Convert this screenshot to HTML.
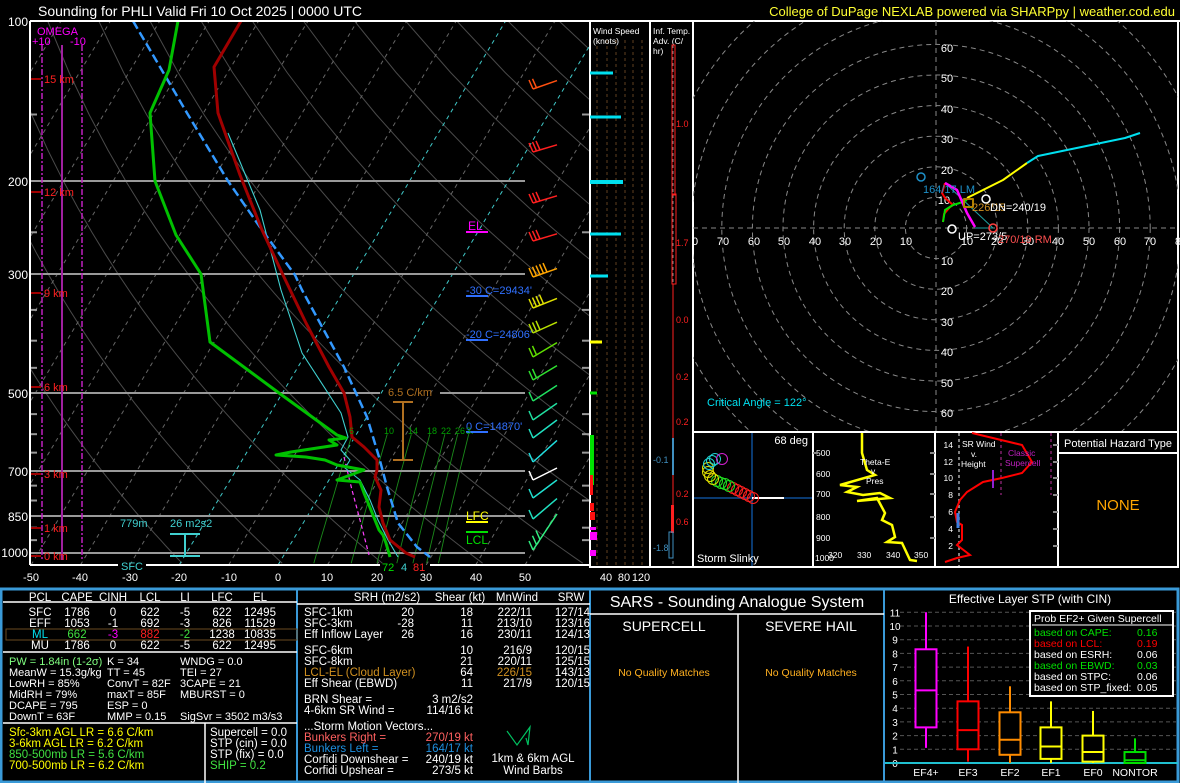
<!DOCTYPE html>
<html><head><meta charset="utf-8"><style>
html,body{margin:0;padding:0;background:#000;}
svg{display:block;font-family:"Liberation Sans",sans-serif;}
</style></head><body>
<svg id="s" width="1180" height="783" viewBox="0 0 1180 783" xmlns="http://www.w3.org/2000/svg">
<rect width="1180" height="783" fill="#000"/>
<defs>
<clipPath id="cs"><rect x="30" y="21" width="559" height="544"/></clipPath>
<clipPath id="ch"><rect x="693" y="21" width="485" height="411"/></clipPath>
</defs>
<text x="38" y="16" fill="#fff" font-size="14">Sounding for PHLI Valid  Fri 10 Oct 2025 | 0000 UTC</text>
<text x="1175" y="16" fill="#ffff33" font-size="13" text-anchor="end">College of DuPage NEXLAB powered via SHARPpy | weather.cod.edu</text>

<g id="grid" clip-path="url(#cs)"></g>

<g stroke="#999" stroke-width="2">
<line x1="30" y1="181" x2="525" y2="181"/><line x1="30" y1="274" x2="525" y2="274"/>
<line x1="30" y1="393" x2="380" y2="393"/><line x1="440" y1="393" x2="525" y2="393"/>
<line x1="30" y1="471" x2="525" y2="471"/><line x1="30" y1="516" x2="525" y2="516"/>
<line x1="30" y1="553" x2="525" y2="553"/>
</g>
<g id="ticks" stroke="#999" stroke-width="2"></g>
<line x1="62" y1="45" x2="62" y2="560" stroke="#a020a0" stroke-width="2"/>
<line x1="42" y1="45" x2="42" y2="560" stroke="#c020c0" stroke-width="1.5" stroke-dasharray="6,2,2,2"/>
<line x1="82" y1="45" x2="82" y2="560" stroke="#c020c0" stroke-width="1.5" stroke-dasharray="6,2,2,2"/>
<text x="37" y="35" fill="#ff00ff" font-size="11">OMEGA</text>
<text x="32" y="45" fill="#ff00ff" font-size="11">+10</text><text x="70" y="45" fill="#ff00ff" font-size="11">-10</text>
<g stroke="#a00000" stroke-width="2"><line x1="31" y1="79" x2="41" y2="79"/><line x1="31" y1="192" x2="41" y2="192"/><line x1="31" y1="293" x2="41" y2="293"/><line x1="31" y1="387" x2="41" y2="387"/><line x1="31" y1="474" x2="41" y2="474"/><line x1="31" y1="528" x2="41" y2="528"/><line x1="31" y1="556" x2="41" y2="556"/></g>
<g fill="#ff2020" font-size="11"><text x="44" y="83">15 km</text><text x="44" y="196">12 km</text><text x="44" y="297">9 km</text><text x="44" y="391">6 km</text><text x="44" y="478">3 km</text><text x="44" y="532">1 km</text><text x="44" y="560">0 km</text></g>

<g clip-path="url(#cs)" fill="none" stroke-linejoin="round">
<polyline stroke="#ff40ff" stroke-width="1.2" stroke-dasharray="4,3" points="344,457 352,490 360,520 369,555"/>
<polyline stroke="#40d0d0" stroke-width="1.1" points="228,133 260,210 281,290 302,353 341,413 348,437 341,450 350,460 345,468 360,480 370,500 378,520 388,540 398,557"/>
<polyline stroke="#3399ff" stroke-width="2.5" stroke-dasharray="9,4" points="133,21 160,67 187,113 228,181 262,230 295,275 302,290 344,367 367,417 379,457 387,487 398,523 417,547 430,557"/>
<polyline stroke="#a00000" stroke-width="3" points="241,21 214,67 218,113 240,175 262,230 283,275 306,323 329,367 344,393 350,417 352,437 364,447 377,460 377,470 375,477 381,490 379,507 383,523 390,540 406,553 415,557"/>
<polyline stroke="#00c000" stroke-width="3" points="178,21 169,70 150,113 155,181 176,235 201,274 210,342 279,393 337,435 346,438 329,440 337,445 291,452 276,455 306,457 325,460 337,465 364,470 337,480 360,482 364,493 371,510 379,530 383,535 386,543 390,557"/>
</g>
<text x="388" y="396" fill="#b07020" font-size="11">6.5 C/km</text>
<g stroke="#b07020" stroke-width="2"><line x1="403" y1="402" x2="403" y2="460"/><line x1="393" y1="402" x2="413" y2="402"/><line x1="393" y1="460" x2="413" y2="460"/></g>
<text x="120" y="527" fill="#40d0d0" font-size="11">779m</text><text x="170" y="527" fill="#40d0d0" font-size="11">26 m2s2</text>
<g stroke="#40d0d0" stroke-width="2"><line x1="170" y1="534" x2="200" y2="534"/><line x1="170" y1="556" x2="200" y2="556"/><line x1="185" y1="534" x2="185" y2="556"/></g>
<text x="466" y="520" fill="#ffff00" font-size="12">LFC</text><line x1="466" y1="522" x2="488" y2="522" stroke="#ffff00" stroke-width="2"/>
<line x1="466" y1="532" x2="488" y2="532" stroke="#00e000" stroke-width="2"/><text x="466" y="544" fill="#00e000" font-size="12">LCL</text>
<text x="468" y="230" fill="#ff00ff" font-size="12">EL</text><line x1="466" y1="232" x2="488" y2="232" stroke="#ff00ff" stroke-width="2"/>
<g fill="#3070ff" font-size="11"><text x="466" y="294">-30 C=29434'</text><text x="466" y="338">-20 C=24806'</text><text x="466" y="430">0 C=14870'</text></g>
<g stroke="#3070ff" stroke-width="2"><line x1="466" y1="296" x2="488" y2="296"/><line x1="466" y1="340" x2="488" y2="340"/><line x1="466" y1="432" x2="488" y2="432"/></g>
<g fill="#00a000" font-size="9"><text x="349" y="434">6</text><text x="384" y="434">10</text><text x="408" y="434">14</text><text x="427" y="434">18</text><text x="441" y="434">22</text><text x="455" y="434">26</text><text x="466" y="434">3.</text></g>
<g id="barbs" fill="none" stroke-width="1.5"></g>

<line x1="30" y1="21" x2="1180" y2="21" stroke="#fff" stroke-width="2"/>
<line x1="30" y1="21" x2="30" y2="565" stroke="#fff" stroke-width="2"/>
<line x1="30" y1="565" x2="118" y2="565" stroke="#fff" stroke-width="2"/><line x1="146" y1="565" x2="380" y2="565" stroke="#fff" stroke-width="2"/><line x1="430" y1="565" x2="589" y2="565" stroke="#fff" stroke-width="2"/>
<text x="121" y="570" fill="#40d0d0" font-size="11">SFC</text>
<text x="382" y="571" fill="#00e000" font-size="11">72</text><text x="401" y="571" fill="#40d0d0" font-size="11">4</text><text x="413" y="571" fill="#ff2020" font-size="11">81</text>
<g fill="#fff" font-size="12" text-anchor="end"><text x="28" y="26">100</text><text x="28" y="186">200</text><text x="28" y="279">300</text><text x="28" y="398">500</text><text x="28" y="476">700</text><text x="28" y="521">850</text><text x="28" y="557">1000</text></g>
<g fill="#fff" font-size="11" text-anchor="middle"><text x="31" y="581">-50</text><text x="80" y="581">-40</text><text x="130" y="581">-30</text><text x="179" y="581">-20</text><text x="229" y="581">-10</text><text x="278" y="581">0</text><text x="327" y="581">10</text><text x="377" y="581">20</text><text x="426" y="581">30</text><text x="476" y="581">40</text><text x="525" y="581">50</text>
<text x="606" y="581">40</text><text x="624" y="581">80</text><text x="641" y="581">120</text></g>

<g stroke="#604020" stroke-width="1" stroke-dasharray="3,3"><line x1="597" y1="40" x2="597" y2="565"/><line x1="607" y1="40" x2="607" y2="565"/><line x1="616" y1="40" x2="616" y2="565"/><line x1="625" y1="40" x2="625" y2="565"/><line x1="633" y1="40" x2="633" y2="565"/><line x1="642" y1="40" x2="642" y2="565"/></g>
<g stroke="#fff" stroke-width="2"><line x1="590" y1="21" x2="590" y2="567"/><line x1="650" y1="21" x2="650" y2="567"/><line x1="693" y1="21" x2="693" y2="432"/><line x1="589" y1="567" x2="693" y2="567"/></g>
<g fill="#fff" font-size="8.5"><text x="593" y="34">Wind Speed</text><text x="593" y="44">(knots)</text><text x="653" y="34">Inf. Temp.</text><text x="653" y="44">Adv. (C/</text><text x="653" y="54">hr)</text></g>
<g stroke="#00e0f0" stroke-width="3"><line x1="590" y1="73" x2="613" y2="73"/><line x1="590" y1="117" x2="621" y2="117"/><line x1="590" y1="182" x2="623" y2="182" stroke-width="4"/><line x1="590" y1="234" x2="621" y2="234"/><line x1="590" y1="276" x2="608" y2="276"/></g>
<line x1="590" y1="342" x2="602" y2="342" stroke="#ffff00" stroke-width="3"/><line x1="590" y1="393" x2="597" y2="393" stroke="#00e000" stroke-width="3"/>
<g fill="#00e000"><rect x="590" y="435" width="4" height="50"/></g>
<g fill="#ff1010"><rect x="590" y="475" width="3" height="20"/><rect x="590" y="503" width="4" height="8"/><rect x="590" y="512" width="5" height="8"/></g>
<g fill="#ff00ff"><rect x="590" y="527" width="6" height="3"/><rect x="590" y="532" width="7" height="8"/><rect x="590" y="550" width="6" height="6"/></g>
<line x1="673" y1="45" x2="673" y2="565" stroke="#888" stroke-width="1" stroke-dasharray="3,3"/>
<rect x="672" y="45" width="3" height="150" fill="none" stroke="#ff2020" stroke-width="1"/>
<rect x="672" y="194" width="4" height="90" fill="none" stroke="#ff2020" stroke-width="1"/>
<line x1="673" y1="284" x2="673" y2="438" stroke="#ff2020" stroke-width="1"/>
<line x1="673" y1="438" x2="673" y2="475" stroke="#4090c0" stroke-width="2"/>
<line x1="673" y1="475" x2="673" y2="505" stroke="#ff2020" stroke-width="1"/>
<rect x="671" y="505" width="3" height="28" fill="#ff2020"/>
<rect x="669" y="532" width="4" height="26" fill="none" stroke="#4090c0" stroke-width="1"/>
<g fill="#ff2020" font-size="9"><text x="676" y="127">1.0</text><text x="676" y="246">1.7</text><text x="676" y="323">0.0</text><text x="676" y="380">0.2</text><text x="676" y="425">0.2</text><text x="676" y="497">0.2</text><text x="676" y="525">0.6</text></g>
<g fill="#4090c0" font-size="9"><text x="653" y="463">-0.1</text><text x="653" y="551">-1.8</text></g>

<rect x="693" y="21" width="485" height="411" fill="none" stroke="#fff" stroke-width="2"/>
<g id="hod" clip-path="url(#ch)" fill="none" stroke="#888" stroke-width="1" stroke-dasharray="5,4"></g>
<g fill="#fff" font-size="11" text-anchor="middle"><text x="695" y="245">0</text><text x="723" y="245">70</text><text x="754" y="245">60</text><text x="784" y="245">50</text><text x="815" y="245">40</text><text x="845" y="245">30</text><text x="876" y="245">20</text><text x="906" y="245">10</text><text x="967" y="245">10</text><text x="997" y="245">20</text><text x="1028" y="245">30</text><text x="1058" y="245">40</text><text x="1089" y="245">50</text><text x="1120" y="245">60</text><text x="1150" y="245">70</text><text x="1178" y="245">8</text></g>
<g fill="#fff" font-size="11" text-anchor="middle"><text x="947" y="52">60</text><text x="947" y="82">50</text><text x="947" y="113">40</text><text x="947" y="143">30</text><text x="947" y="174">20</text><text x="944" y="204">10</text><text x="947" y="265">10</text><text x="947" y="295">20</text><text x="947" y="326">30</text><text x="947" y="356">40</text><text x="947" y="387">50</text><text x="947" y="417">60</text></g>
<g fill="none" stroke-linejoin="round">
<polyline stroke="#20a0a0" stroke-width="1" points="945,183 993,228 975,228"/>
<polyline stroke="#ff0000" stroke-width="2" points="943,222 944,214 950,207 953,205 945,198 942,193 945,183"/>
<polyline stroke="#00e000" stroke-width="2" points="943,222 945,210 953,205 963,202 967,200"/>
<polyline stroke="#ff00ff" stroke-width="2.5" points="945,183 957,190 967,213 975,227"/>
<polyline stroke="#ffff00" stroke-width="2" points="967,198 1003,180 1027,163"/>
<polyline stroke="#00e0f0" stroke-width="2" points="1027,163 1038,156 1125,138 1140,133"/>
<circle cx="921" cy="177" r="4" stroke="#1e90c8" stroke-width="1.5"/>
<circle cx="986" cy="199" r="4" stroke="#fff" stroke-width="1.5"/>
<circle cx="952" cy="229" r="4" stroke="#fff" stroke-width="1.5"/>
<circle cx="993" cy="228" r="4" stroke="#ff4040" stroke-width="1.5"/>
<rect x="964" y="199" width="9" height="8" stroke="#b08000" stroke-width="2"/>
</g>
<g font-size="11"><text x="923" y="193" fill="#1e90c8">164/17 LM</text><text x="972" y="211" fill="#d09020">226/15</text><text x="990" y="211" fill="#fff">DN=240/19</text><text x="958" y="240" fill="#fff">UP=273/5</text><text x="998" y="243" fill="#ff5050">270/19 RM</text><text x="707" y="406" fill="#00e0f0">Critical Angle = 122°</text></g>

<g fill="none" stroke="#fff" stroke-width="2"><rect x="693" y="432" width="120" height="135"/><rect x="813" y="432" width="122" height="135"/><rect x="935" y="432" width="123" height="135"/><rect x="1058" y="432" width="120" height="135"/></g>
<g stroke="#0a3a70" stroke-width="2"><line x1="752" y1="433" x2="752" y2="566"/><line x1="694" y1="498" x2="812" y2="498"/></g>
<line x1="752" y1="498" x2="784" y2="498" stroke="#fff" stroke-width="2"/>
<g id="slinky" fill="none" stroke-width="1"></g>
<text x="808" y="444" fill="#fff" font-size="11" text-anchor="end">68 deg</text>
<text x="697" y="562" fill="#fff" font-size="11">Storm Slinky</text>
<polyline fill="none" stroke="#ffff00" stroke-width="2.5" points="862,433 862,453 867,470 875,475 840,485 857,487 847,492 863,495 880,493 890,498 857,501 877,498 885,513 882,520 892,525 895,537 887,542 902,543 910,560 917,561"/>
<g fill="#fff" font-size="8.5"><text x="860" y="465">Theta-E</text><text x="871" y="474">v</text><text x="866" y="484">Pres</text>
<text x="816" y="456">500</text><text x="816" y="477">600</text><text x="816" y="497">700</text><text x="816" y="520">800</text><text x="816" y="541">900</text><text x="815" y="561">1000</text>
<text x="828" y="558">320</text><text x="857" y="558">330</text><text x="886" y="558">340</text><text x="914" y="558">350</text></g>
<g stroke="#888" stroke-width="2"><line x1="813" y1="453" x2="818" y2="453"/><line x1="930" y1="453" x2="935" y2="453"/><line x1="930" y1="474" x2="935" y2="474"/><line x1="930" y1="494" x2="935" y2="494"/><line x1="930" y1="517" x2="935" y2="517"/><line x1="930" y1="538" x2="935" y2="538"/><line x1="1053" y1="445" x2="1058" y2="445"/><line x1="1053" y1="462" x2="1058" y2="462"/><line x1="1053" y1="478" x2="1058" y2="478"/><line x1="1053" y1="495" x2="1058" y2="495"/><line x1="1053" y1="512" x2="1058" y2="512"/><line x1="1053" y1="529" x2="1058" y2="529"/><line x1="1053" y1="546" x2="1058" y2="546"/></g>
<line x1="959" y1="433" x2="959" y2="566" stroke="#aaa" stroke-width="1.5" stroke-dasharray="3,3"/>
<line x1="1001" y1="433" x2="1001" y2="495" stroke="#80206a" stroke-width="1.5" stroke-dasharray="3,3"/>
<line x1="1051" y1="433" x2="1051" y2="495" stroke="#80206a" stroke-width="1.5" stroke-dasharray="3,3"/>
<polyline fill="none" stroke="#ff0000" stroke-width="2" points="972,433 1022,445 1032,462 1022,473 1002,478 983,482 967,492 960,500 955,512 957,522 962,525 962,540 957,545 970,555 957,558 945,562"/>
<line x1="993" y1="470" x2="993" y2="488" stroke="#9020d0" stroke-width="2"/>
<line x1="958" y1="513" x2="958" y2="528" stroke="#4080e0" stroke-width="3"/>
<g fill="#fff" font-size="8.5"><text x="962" y="447">SR Wind</text><text x="971" y="457">v.</text><text x="961" y="467">Height</text>
<text x="953" y="448" text-anchor="end">14</text><text x="953" y="465" text-anchor="end">12</text><text x="953" y="481" text-anchor="end">10</text><text x="953" y="498" text-anchor="end">8</text><text x="953" y="515" text-anchor="end">6</text><text x="953" y="532" text-anchor="end">4</text><text x="953" y="549" text-anchor="end">2</text></g>
<g fill="#c020c0" font-size="8.5"><text x="1008" y="456">Classic</text><text x="1005" y="466">Supercell</text></g>
<text x="1118" y="447" fill="#fff" font-size="11" text-anchor="middle">Potential Hazard Type</text>
<line x1="1058" y1="453" x2="1178" y2="453" stroke="#fff" stroke-width="2"/>
<text x="1118" y="510" fill="#ffa500" font-size="15" text-anchor="middle">NONE</text>

<rect x="1" y="589" width="1177" height="193" fill="none" stroke="#3a9ad8" stroke-width="3"/>
<line x1="297" y1="589" x2="297" y2="783" stroke="#3a9ad8" stroke-width="2"/>
<line x1="590" y1="589" x2="590" y2="783" stroke="#3a9ad8" stroke-width="2"/>
<line x1="884" y1="589" x2="884" y2="783" stroke="#3a9ad8" stroke-width="2"/>
<g stroke="#fff" stroke-width="1.5"><line x1="3" y1="602" x2="297" y2="602"/><line x1="3" y1="652" x2="297" y2="652"/><line x1="3" y1="723" x2="297" y2="723"/><line x1="205" y1="723" x2="205" y2="783"/><line x1="297" y1="604" x2="590" y2="604"/><line x1="590" y1="614" x2="884" y2="614"/><line x1="738" y1="614" x2="738" y2="783"/></g>
<rect x="6" y="629" width="291" height="11" fill="none" stroke="#6a4a20" stroke-width="1"/>
<g font-size="11.5" fill="#fff">
<g text-anchor="middle"><text x="40" y="601">PCL</text><text x="77" y="601">CAPE</text><text x="113" y="601">CINH</text><text x="150" y="601">LCL</text><text x="185" y="601">LI</text><text x="222" y="601">LFC</text><text x="260" y="601">EL</text>
<text x="40" y="616">SFC</text><text x="77" y="616">1786</text><text x="113" y="616">0</text><text x="150" y="616">622</text><text x="185" y="616">-5</text><text x="222" y="616">622</text><text x="260" y="616">12495</text>
<text x="40" y="627">EFF</text><text x="77" y="627">1053</text><text x="113" y="627">-1</text><text x="150" y="627">692</text><text x="185" y="627">-3</text><text x="222" y="627">826</text><text x="260" y="627">11529</text>
<text x="40" y="638" fill="#00e0f0">ML</text><text x="77" y="638" fill="#40e040">662</text><text x="113" y="638" fill="#ff00ff">-3</text><text x="150" y="638" fill="#ff2020">882</text><text x="185" y="638" fill="#40e040">-2</text><text x="222" y="638">1238</text><text x="260" y="638">10835</text>
<text x="40" y="649">MU</text><text x="77" y="649">1786</text><text x="113" y="649">0</text><text x="150" y="649">622</text><text x="185" y="649">-5</text><text x="222" y="649">622</text><text x="260" y="649">12495</text></g>
<g font-size="11">
<text x="9" y="665" fill="#80ff80">PW = 1.84in (1-2σ)</text><text x="107" y="665">K = 34</text><text x="180" y="665">WNDG = 0.0</text>
<text x="9" y="676">MeanW = 15.3g/kg</text><text x="107" y="676">TT = 45</text><text x="180" y="676">TEI = 27</text>
<text x="9" y="687">LowRH = 85%</text><text x="107" y="687">ConvT = 82F</text><text x="180" y="687">3CAPE = 21</text>
<text x="9" y="698">MidRH = 79%</text><text x="107" y="698">maxT = 85F</text><text x="180" y="698">MBURST = 0</text>
<text x="9" y="709">DCAPE = 795</text><text x="107" y="709">ESP = 0</text>
<text x="9" y="720">DownT = 63F</text><text x="107" y="720">MMP = 0.15</text><text x="180" y="720">SigSvr = 3502 m3/s3</text>
</g>
<text x="9" y="736" fill="#ffff00">Sfc-3km AGL LR = 6.6 C/km</text>
<text x="9" y="747" fill="#ffff00">3-6km AGL LR = 6.2 C/km</text>
<text x="9" y="758" fill="#40e040">850-500mb LR = 5.6 C/km</text>
<text x="9" y="769" fill="#ffff00">700-500mb LR = 6.2 C/km</text>
<text x="210" y="736">Supercell = 0.0</text><text x="210" y="747">STP (cin) = 0.0</text><text x="210" y="758">STP (fix) = 0.0</text><text x="210" y="769" fill="#40e040">SHIP = 0.2</text>

<g text-anchor="middle"><text x="387" y="601">SRH (m2/s2)</text><text x="460" y="601">Shear (kt)</text><text x="517" y="601">MnWind</text><text x="571" y="601">SRW</text></g>
<text x="304" y="616">SFC-1km</text><text x="304" y="627">SFC-3km</text><text x="304" y="638">Eff Inflow Layer</text>
<text x="304" y="654">SFC-6km</text><text x="304" y="665">SFC-8km</text><text x="304" y="676" fill="#d09020">LCL-EL (Cloud Layer)</text><text x="304" y="687">Eff Shear (EBWD)</text>
<g text-anchor="end"><text x="414" y="616">20</text><text x="414" y="627">-28</text><text x="414" y="638">26</text>
<text x="473" y="616">18</text><text x="473" y="627">11</text><text x="473" y="638">16</text><text x="473" y="654">10</text><text x="473" y="665">21</text><text x="473" y="676">64</text><text x="473" y="687">11</text>
<text x="532" y="616">222/11</text><text x="532" y="627">213/10</text><text x="532" y="638">230/11</text><text x="532" y="654">216/9</text><text x="532" y="665">220/11</text><text x="532" y="676" fill="#d09020">226/15</text><text x="532" y="687">217/9</text>
<text x="590" y="616">127/14</text><text x="590" y="627">123/16</text><text x="590" y="638">124/13</text><text x="590" y="654">120/15</text><text x="590" y="665">125/15</text><text x="590" y="676">143/13</text><text x="590" y="687">120/15</text>
<text x="473" y="703">3 m2/s2</text><text x="473" y="714">114/16 kt</text>
<text x="473" y="741" fill="#ff6060">270/19 kt</text><text x="473" y="752" fill="#1e90e0">164/17 kt</text><text x="473" y="763">240/19 kt</text><text x="473" y="774">273/5 kt</text></g>
<text x="304" y="703">BRN Shear =</text><text x="304" y="714">4-6km SR Wind =</text>
<text x="304" y="730">...Storm Motion Vectors...</text>
<text x="304" y="741" fill="#ff6060">Bunkers Right =</text><text x="304" y="752" fill="#1e90e0">Bunkers Left =</text><text x="304" y="763">Corfidi Downshear =</text><text x="304" y="774">Corfidi Upshear =</text>
<g text-anchor="middle"><text x="533" y="762">1km &amp; 6km AGL</text><text x="533" y="774">Wind Barbs</text></g>
</g>
<polyline fill="none" stroke="#00c060" stroke-width="1.2" points="507,731 517,745 530,727 528,745 526,738"/>

<text x="737" y="607" fill="#fff" font-size="16" text-anchor="middle">SARS - Sounding Analogue System</text>
<text x="664" y="631" fill="#fff" font-size="14" text-anchor="middle">SUPERCELL</text>
<text x="811" y="631" fill="#fff" font-size="14" text-anchor="middle">SEVERE HAIL</text>
<text x="664" y="676" fill="#ffb020" font-size="10.5" text-anchor="middle">No Quality Matches</text>
<text x="811" y="676" fill="#ffb020" font-size="10.5" text-anchor="middle">No Quality Matches</text>

<text x="1030" y="603" fill="#fff" font-size="12" text-anchor="middle">Effective Layer STP (with CIN)</text>
<g id="stp"></g>
<rect x="1030" y="611" width="143" height="85" fill="#000" stroke="#fff" stroke-width="2"/>
<line x1="1032" y1="625" x2="1172" y2="625" stroke="#fff" stroke-width="1"/>
<g font-size="10.5"><text x="1034" y="622" fill="#fff">Prob EF2+ Given Supercell</text>
<text x="1034" y="636" fill="#00e000">based on CAPE:</text><text x="1137" y="636" fill="#00e000">0.16</text>
<text x="1034" y="647" fill="#ff0000">based on LCL:</text><text x="1137" y="647" fill="#ff0000">0.19</text>
<text x="1034" y="658" fill="#fff">based on ESRH:</text><text x="1137" y="658" fill="#fff">0.06</text>
<text x="1034" y="669" fill="#00e000">based on EBWD:</text><text x="1137" y="669" fill="#00e000">0.03</text>
<text x="1034" y="680" fill="#fff">based on STPC:</text><text x="1137" y="680" fill="#fff">0.06</text>
<text x="1034" y="691" fill="#fff">based on STP_fixed:</text><text x="1137" y="691" fill="#fff">0.05</text></g>
</svg>
<script>
(function(){
var NS="http://www.w3.org/2000/svg";
function el(p,t,a){var e=document.createElementNS(NS,t);for(var k in a)e.setAttribute(k,a[k]);p.appendChild(e);return e;}
function Y(p){return 21+230.6*Math.log(p/100);}
function X(T,y){return 278+4.94*T+0.6*(565-y);}
var g=document.getElementById('grid');
for(var th=250;th<=520;th+=20){var pts=[];for(var p=1050;p>=100;p-=25){var T=th*Math.pow(p/1000,0.286)-273.15;var y=Y(p);pts.push(X(T,y).toFixed(1)+","+y.toFixed(1));}
el(g,'polyline',{points:pts.join(' '),fill:'none',stroke:'#4a4a4a','stroke-width':1});}
for(var T=-140;T<=50;T+=10){var c=(T==0||T==-20)?'#40c8c8':'#666';el(g,'line',{x1:X(T,565),y1:565,x2:X(T,21),y2:21,stroke:c,'stroke-width':1,'stroke-dasharray':'4,4'});}
[6,10,14,18,22,26,30].forEach(function(w){var pts=[];for(var p=1050;p>=600;p-=25){var e=w*p/(622+w);var l=Math.log(e/6.112);var Td=243.5*l/(17.67-l);var y=Y(p);pts.push(X(Td,y).toFixed(1)+","+y.toFixed(1));}
el(g,'polyline',{points:pts.join(' '),fill:'none',stroke:'#1a8a1a','stroke-width':0.9});});
var tk=document.getElementById('ticks');
[150,250,350,400,450,550,600,650,750,800,900,950].forEach(function(p){var y=Y(p);el(tk,'line',{x1:30,y1:y,x2:37,y2:y});el(tk,'line',{x1:582,y1:y,x2:589,y2:y});});
var b=document.getElementById('barbs');
var B=[[85,'#ff5010',2,0.35],[148,'#ff2020',3,0.3],[199,'#ff2020',3,0.3],[237,'#ff2020',3,0.3],[273,'#ffa500',5,0.35],[304,'#e0e000',4,0.4],[329,'#b8e000',3,0.45],[353,'#60e000',2,0.6],[376,'#30e030',2,0.6],[397,'#20e060',1,0.65],[416,'#20e0a0',1,0.7],[434,'#20e0c0',1,0.75],[458,'#20e0e0',1,0.9],[476,'#ffffff',1,0.5],[494,'#20e0d0',1,0.75],[515,'#20e0c0',1,0.85],[546,'#30f080',3,1.5]];
B.forEach(function(r){var y=r[0],sl=r[3],x0=533,x1=557,y0=y+4,y1=y0-(x1-x0)*sl;
el(b,'line',{x1:x0,y1:y0,x2:x1,y2:y1,stroke:r[1]});
for(var i=0;i<r[2];i++){var bx=x0+i*3.5,by=y0-i*3.5*sl;el(b,'line',{x1:bx,y1:by,x2:bx-4,y2:by-9,stroke:r[1]});}});
var h=document.getElementById('hod');
for(var n=1;n<=9;n++)el(h,'circle',{cx:936,cy:228,r:n*30.6});
el(h,'line',{x1:693,y1:228,x2:1178,y2:228});el(h,'line',{x1:936,y1:21,x2:936,y2:432});
var s=document.getElementById('slinky');
var sp=[[753,498,'#ff2020'],[749,496,'#ff2020'],[745,494,'#ff2020'],[741,492,'#ff2020'],[737,490,'#ff2020'],[733,488,'#ff2020'],[729,486,'#20e020'],[725,484,'#20e020'],[721,483,'#20e020'],[717,481,'#20e020'],[713,479,'#e0e000'],[710,476,'#e0e000'],[708,472,'#e0e000'],[708,468,'#e0e000'],[709,464,'#20d0d0'],[712,461,'#20d0d0'],[715,459,'#20d0d0'],[722,459,'#d020d0']];
sp.forEach(function(q){el(s,'circle',{cx:q[0],cy:q[1],r:5.5,stroke:q[2]});});
var st=document.getElementById('stp');function SY(v){return 763-v*13.7;}
for(var v=1;v<=11;v++){el(st,'line',{x1:900,y1:SY(v),x2:1176,y2:SY(v),stroke:'#555','stroke-dasharray':'4,3'});var t=el(st,'text',{x:895,y:SY(v)+4,fill:'#fff','font-size':10,'text-anchor':'middle'});t.textContent=v;}
var t0=el(st,'text',{x:895,y:767,fill:'#fff','font-size':10,'text-anchor':'middle'});t0.textContent='0';
el(st,'line',{x1:885,y1:763,x2:1178,y2:763,stroke:'#20c0d0','stroke-width':2});
var BX=[['EF4+',926,'#ff00ff',1.1,11,2.6,8.3,5.3],['EF3',968,'#ff0000',0.1,8.5,1.0,4.5,2.4],['EF2',1010,'#ff8c00',0,5.6,0.6,3.7,1.7],['EF1',1051,'#ffff00',0,4.5,0.3,2.6,1.2],['EF0',1093,'#ffff00',0,3.8,0.1,2.0,0.8],['NONTOR',1135,'#00e000',0,1.8,0,0.8,0.2]];
BX.forEach(function(q){var c=q[1],w=10.5;el(st,'line',{x1:c,y1:SY(q[3]),x2:c,y2:SY(q[4]),stroke:q[2],'stroke-width':2});
el(st,'rect',{x:c-w,y:SY(q[6]),width:2*w,height:SY(q[5])-SY(q[6]),fill:'#000',stroke:q[2],'stroke-width':2});
el(st,'line',{x1:c-w,y1:SY(q[7]),x2:c+w,y2:SY(q[7]),stroke:q[2],'stroke-width':2});
var t=el(st,'text',{x:c,y:776,fill:'#fff','font-size':10.5,'text-anchor':'middle'});t.textContent=q[0];});
})();
</script>
</body></html>
